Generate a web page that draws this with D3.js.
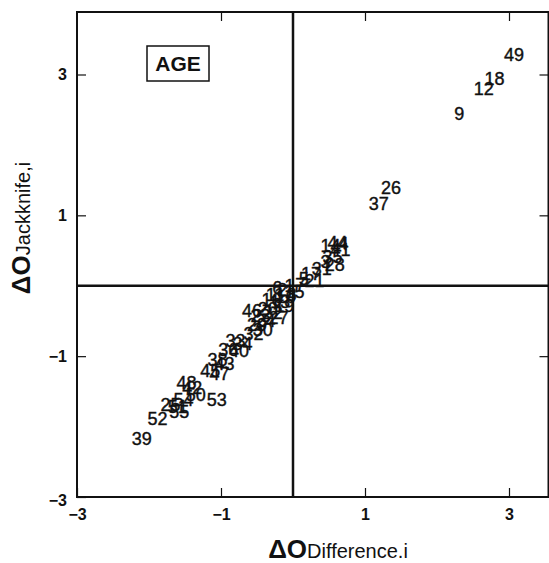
<!DOCTYPE html>
<html>
<head>
<meta charset="utf-8">
<script src="https://cdn.jsdelivr.net/npm/d3@7"></script>
<style>
  html, body { margin: 0; padding: 0; background: #fff; }
  svg { display: block; }
</style>
</head>
<body>
<script>
const ids = [9, 12, 18, 49, 26, 37, 46, 53, 52, 39,
  44, 4, 14, 41,
  35, 3, 28, 31,
  17, 5, 21, 7,
  1, 2, 6, 8, 10, 11, 13, 15, 16, 19,
  20, 22, 23, 24, 27, 29, 30, 32,
  33, 34, 36, 40,
  38, 43, 45, 47,
  42, 48, 50,
  25, 51, 54, 55];
const diffVals = [2.31, 2.65, 2.80, 3.07, 1.36, 1.19, -0.57, -1.06, -1.88, -2.10,
  0.62, 0.70, 0.52, 0.66,
  0.55, 0.45, 0.58, 0.40,
  0.25, 0.15, 0.30, 0.10,
  -0.05, -0.15, -0.22, -0.02, -0.10, -0.25, -0.18, 0.02, -0.30, -0.12,
  -0.35, -0.28, -0.45, -0.38, -0.20, -0.50, -0.42, -0.55,
  -0.80, -0.70, -0.90, -0.75,
  -1.05, -0.95, -1.15, -1.02,
  -1.40, -1.48, -1.35,
  -1.70, -1.60, -1.52, -1.58];
const jackVals = [2.45, 2.80, 2.95, 3.29, 1.39, 1.17, -0.35, -1.62, -1.89, -2.17,
  0.62, 0.60, 0.57, 0.52,
  0.42, 0.35, 0.30, 0.25,
  0.18, 0.10, 0.08, 0.02,
  0.00, -0.05, -0.02, -0.12, -0.15, -0.12, -0.22, -0.08, -0.20, -0.28,
  -0.32, -0.38, -0.42, -0.50, -0.45, -0.55, -0.62, -0.68,
  -0.78, -0.82, -0.90, -0.92,
  -1.05, -1.10, -1.20, -1.25,
  -1.45, -1.38, -1.55,
  -1.68, -1.72, -1.62, -1.78];
const tickVals = [-3, -1, 1, 3];
const panelLabel = "AGE";

const width = 549, height = 563;
const svg = d3.select("body").append("svg")
  .attr("width", width).attr("height", height)
  .style("font-family", "Arial, 'Liberation Sans', Helvetica, sans-serif");

// -3..3 maps to 77..509 horizontally, 497..74.5 vertically
const x = d3.scaleLinear().domain([-3, 3]).range([77, 509]);
const y = d3.scaleLinear().domain([-3, 3]).range([497, 74.5]);
const xMax = x.invert(548.5), yMax = y.invert(12);

// Frame
svg.append("rect")
  .attr("x", x(-3)).attr("y", y(yMax))
  .attr("width", x(xMax) - x(-3)).attr("height", y(-3) - y(yMax))
  .attr("fill", "none").attr("stroke", "#111").attr("stroke-width", 2);

// Axes (inward ticks)
const xs = x.copy().domain([-3, xMax]).range([x(-3), x(xMax)]);
const ys = y.copy().domain([-3, yMax]).range([y(-3), y(yMax)]);

const axB = svg.append("g").attr("transform", `translate(0,${y(-3)})`)
  .call(d3.axisBottom(xs).tickValues(tickVals).tickSizeInner(-9).tickSizeOuter(0).tickPadding(12).tickFormat(d3.format("d")));
const axT = svg.append("g").attr("transform", `translate(0,${y(yMax)})`)
  .call(d3.axisTop(xs).tickValues(tickVals.slice(1)).tickSizeInner(-9).tickSizeOuter(0).tickFormat(""));
const axL = svg.append("g").attr("transform", `translate(${x(-3)},0)`)
  .call(d3.axisLeft(ys).tickValues(tickVals).tickSizeInner(-9).tickSizeOuter(0).tickPadding(10).tickFormat(d3.format("d")));
const axR = svg.append("g").attr("transform", `translate(${x(xMax)},0)`)
  .call(d3.axisRight(ys).tickValues(tickVals.slice(1)).tickSizeInner(-9).tickSizeOuter(0).tickFormat(""));

for (const a of [axB, axT, axL, axR]) {
  a.select(".domain").remove();
  a.selectAll("line").attr("stroke", "#111").attr("stroke-width", 1.2);
  a.selectAll("text").attr("font-size", 16).attr("font-weight", "bold")
    .attr("fill", "#111").attr("font-family", "Arial, 'Liberation Sans', sans-serif");
}
axL.selectAll(".tick").filter(d => d === -3).select("text").attr("dy", "0.55em");

// Zero reference lines
svg.append("line")
  .attr("x1", x(0)).attr("x2", x(0)).attr("y1", y(yMax)).attr("y2", y(-3))
  .attr("stroke", "#111").attr("stroke-width", 2.5);
svg.append("line")
  .attr("x1", x(-3)).attr("x2", x(xMax)).attr("y1", y(0)).attr("y2", y(0))
  .attr("stroke", "#111").attr("stroke-width", 2.5);

// Point labels (observation numbers); thin stroke mimics the heavy print
svg.append("g").selectAll("text")
  .data(ids.map((id, i) => ({id, dx: diffVals[i], jk: jackVals[i]})))
  .join("text")
  .attr("x", d => x(d.dx)).attr("y", d => y(d.jk))
  .attr("dy", "0.36em")
  .attr("text-anchor", "middle")
  .attr("font-size", 18).attr("fill", "#111")
  .attr("stroke", "#111").attr("stroke-width", 0.4)
  .text(d => d.id);

// Panel label box
svg.append("rect")
  .attr("x", 147).attr("y", 46).attr("width", 62).attr("height", 35)
  .attr("fill", "#fff").attr("stroke", "#111").attr("stroke-width", 1.5);
svg.append("text")
  .attr("x", 178).attr("y", 71)
  .attr("text-anchor", "middle").attr("font-size", 21).attr("font-weight", "bold")
  .attr("fill", "#111")
  .text(panelLabel);

// Axis titles
const xt = svg.append("text")
  .attr("x", 338).attr("y", 558)
  .attr("text-anchor", "middle").attr("fill", "#111");
xt.append("tspan").attr("font-size", 26).attr("font-weight", "bold").text("ΔO");
xt.append("tspan").attr("font-size", 20).text("Difference.i");

const yt = svg.append("text")
  .attr("transform", "translate(30,228) rotate(-90)")
  .attr("text-anchor", "middle").attr("fill", "#111");
yt.append("tspan").attr("font-size", 26).attr("font-weight", "bold").text("ΔO");
yt.append("tspan").attr("font-size", 20).text("Jackknife,i");
</script>
</body>
</html>
